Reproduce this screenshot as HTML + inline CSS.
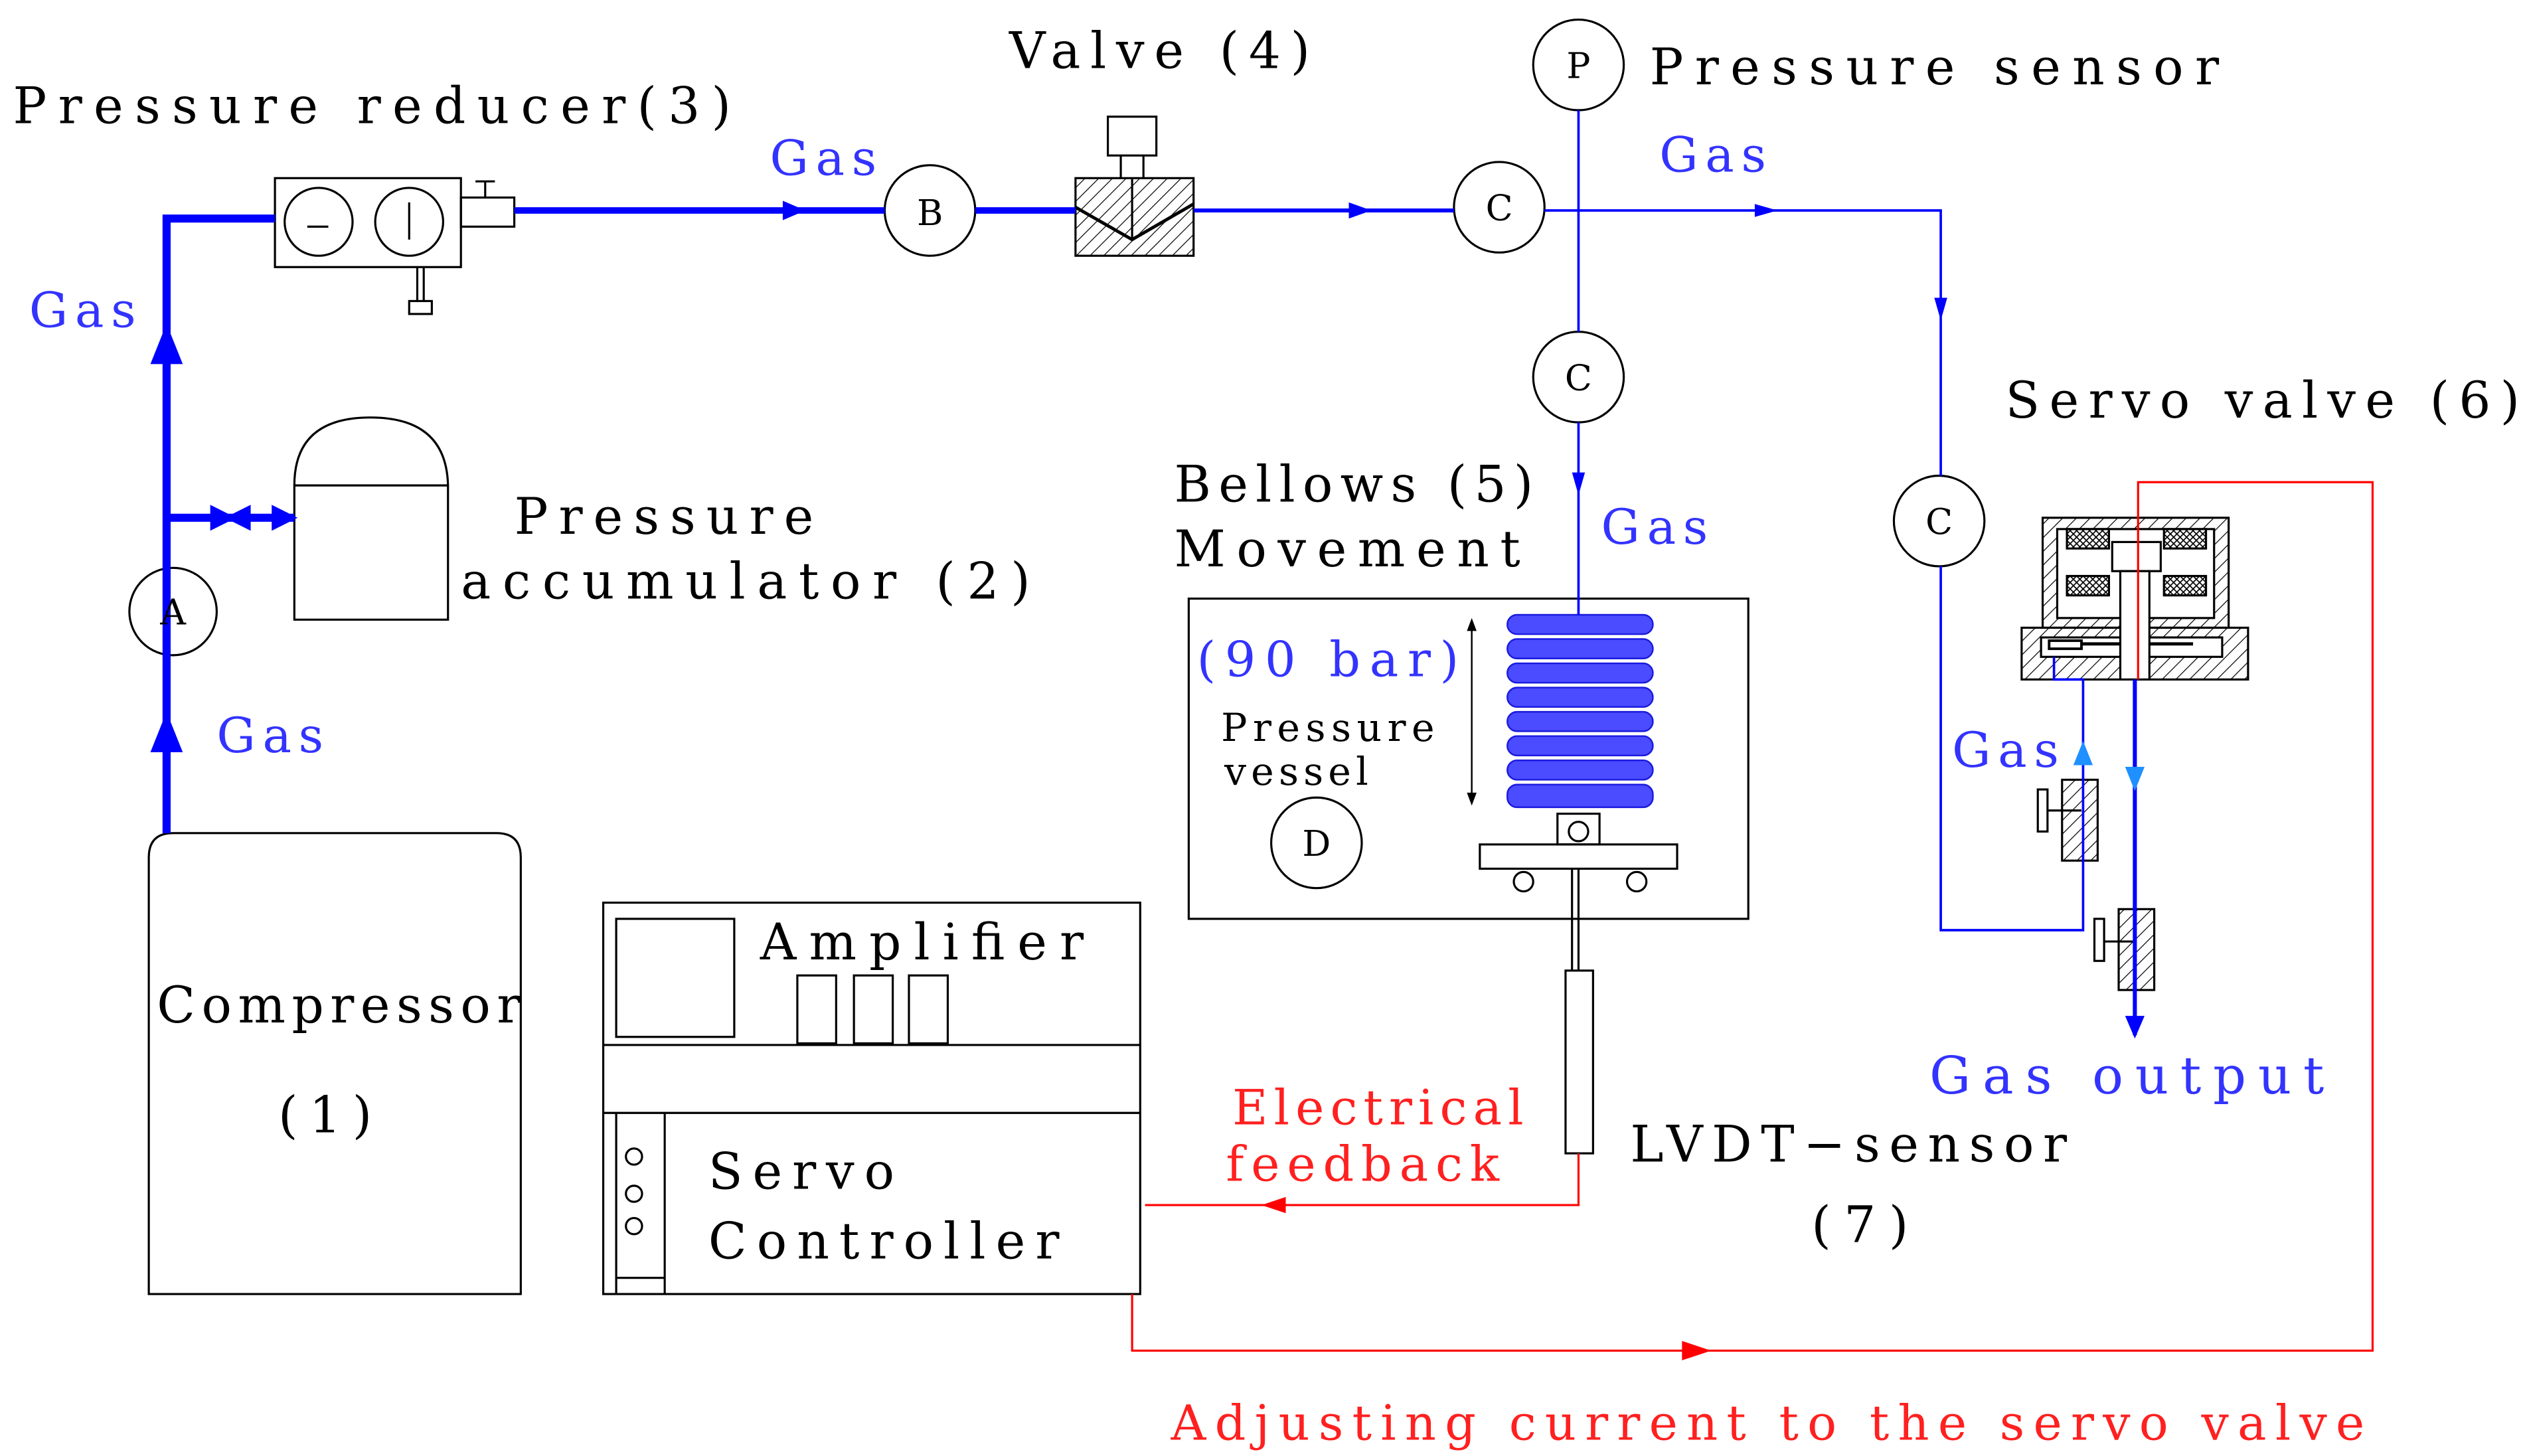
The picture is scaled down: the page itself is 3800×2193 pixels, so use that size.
<!DOCTYPE html>
<html><head><meta charset="utf-8"><style>
html,body{margin:0;padding:0;background:#fff;}
svg{display:block}
text{font-family:"DejaVu Serif","Liberation Serif",serif;}
</style></head><body>
<svg width="3800" height="2193" viewBox="0 0 1560 900" xmlns="http://www.w3.org/2000/svg">
<defs>
<pattern id="h" width="6" height="6" patternUnits="userSpaceOnUse" patternTransform="rotate(45)"><line x1="0" y1="0" x2="0" y2="6" stroke="#000" stroke-width="1"/></pattern>
<pattern id="x" width="4" height="4" patternUnits="userSpaceOnUse"><path d="M0 0L4 4M4 0L0 4" stroke="#000" stroke-width="0.7"/></pattern>
</defs>
<g fill="none" stroke="#000" stroke-width="1.3">
<path d="M92 800V530q0-15 15-15h200q15 0 15 15V800Z"/>
<path d="M182 383V300q0-42 47-42t48 42V383Z"/>
<line x1="182" y1="300" x2="277" y2="300"/>
<rect x="170" y="110" width="115" height="55"/>
<circle cx="197" cy="137" r="21"/><circle cx="253" cy="137" r="21"/>
<line x1="190" y1="140" x2="203" y2="140"/><line x1="253" y1="125" x2="253" y2="148"/>
<rect x="285" y="122" width="33" height="18"/>
<path d="M300 122V112M294 112h12"/>
<path d="M258 165V186M262 165V186"/><rect x="253" y="186" width="14" height="8"/>
<rect x="665" y="110" width="73" height="48" fill="url(#h)"/>
<rect x="685" y="72" width="30" height="24" fill="#fff"/>
<path d="M693 96V110M707 96V110"/>
<path d="M665 128L700 148L738 126" stroke-width="2"/>
<line x1="700" y1="110" x2="700" y2="148"/>
<circle cx="107" cy="378" r="27" fill="#fff"/>
<circle cx="575" cy="130" r="28"/>
<circle cx="927" cy="128" r="28"/>
<circle cx="976" cy="40" r="28"/>
<circle cx="976" cy="233" r="28"/>
<circle cx="1199" cy="322" r="28"/>
<circle cx="814" cy="521" r="28"/>
<rect x="735" y="370" width="346" height="198"/>
<rect x="915" y="522" width="122" height="15"/>
<circle cx="942" cy="545" r="6"/><circle cx="1012" cy="545" r="6"/>
<rect x="963" y="503" width="26" height="19"/><circle cx="976" cy="514" r="6"/>
<line x1="976" y1="537" x2="976" y2="600"/><line x1="972" y1="537" x2="972" y2="600"/>
<rect x="968" y="600" width="17" height="113"/>
<rect x="373" y="558" width="332" height="242"/>
<rect x="381" y="568" width="73" height="73"/>
<rect x="493" y="603" width="24" height="42"/><rect x="528" y="603" width="24" height="42"/><rect x="562" y="603" width="24" height="42"/>
<line x1="373" y1="646" x2="705" y2="646"/><line x1="373" y1="688" x2="705" y2="688"/>
<line x1="411" y1="688" x2="411" y2="800"/><line x1="381" y1="688" x2="381" y2="800"/><line x1="381" y1="790" x2="411" y2="790"/>
<circle cx="392" cy="715" r="5"/><circle cx="392" cy="738" r="5"/><circle cx="392" cy="758" r="5"/>
<rect x="1263" y="320" width="115" height="68" fill="url(#h)"/>
<rect x="1272" y="327" width="97" height="55" fill="#fff"/>
<rect x="1278" y="327" width="26" height="12" fill="url(#x)"/><rect x="1338" y="327" width="26" height="12" fill="url(#x)"/>
<rect x="1278" y="356" width="26" height="12" fill="url(#x)"/><rect x="1338" y="356" width="26" height="12" fill="url(#x)"/>
<rect x="1306" y="335" width="30" height="18"/>
<rect x="1250" y="388" width="140" height="32" fill="url(#h)"/>
<rect x="1262" y="394" width="112" height="12" fill="#fff"/>
<rect x="1267" y="396" width="20" height="5" fill="#fff" stroke-width="1.6"/><path d="M1287 398h28M1328 398h28" stroke-width="2"/>
<rect x="1311" y="353" width="18" height="67" fill="#fff"/>
<rect x="1275" y="482" width="22" height="50" fill="url(#h)"/>
<rect x="1260" y="488" width="6" height="26" fill="#fff"/><line x1="1266" y1="501" x2="1287" y2="501"/>
<rect x="1310" y="562" width="22" height="50" fill="url(#h)"/>
<rect x="1295" y="568" width="6" height="26" fill="#fff"/><line x1="1301" y1="582" x2="1320" y2="582"/>
</g>
<g fill="#4b4bff" stroke="#1a1adf" stroke-width="1">
<rect x="932" y="380" width="90" height="12" rx="6"/><rect x="932" y="395" width="90" height="12" rx="6"/>
<rect x="932" y="410" width="90" height="12" rx="6"/><rect x="932" y="425" width="90" height="12" rx="6"/>
<rect x="932" y="440" width="90" height="12" rx="6"/><rect x="932" y="455" width="90" height="12" rx="6"/>
<rect x="932" y="470" width="90" height="12" rx="6"/><rect x="932" y="485" width="90" height="14" rx="6"/>
</g>
<g stroke="#000" stroke-width="1"><line x1="910" y1="385" x2="910" y2="495"/></g>
<path d="M907 390l3-8 3 8ZM907 490l3 8 3-8Z" fill="#000"/>
<g fill="none" stroke="#0000ff">
<path d="M103 515V135H170" stroke-width="5"/>
<path d="M103 320H182" stroke-width="5"/>
<path d="M318 130H547M603 130H665" stroke-width="4"/>
<path d="M738 130H899" stroke-width="2.5"/>
<path d="M955 130H1200V294M1200 350V575H1288V420H1270V406" stroke-width="1.5"/>
<path d="M976 68V205M976 261V380" stroke-width="1.5"/>
<path d="M1320 420V640" stroke-width="2.5"/>
</g>
<g fill="#0000ff">
<path d="M93 465L103 440L113 465Z"/><path d="M93 225L103 200L113 225Z"/>
<path d="M130 312L146 320L130 328Z"/><path d="M155 312L139 320L155 328Z"/><path d="M168 312L184 320L168 328Z"/>
<path d="M484 124L498 130L484 136Z"/><path d="M834 125L848 130L834 135Z"/><path d="M1085 126L1099 130L1085 134Z"/>
<path d="M1196 184L1200 198L1204 184Z"/><path d="M972 292L976 306L980 292Z"/>
<path d="M1314 628L1320 642L1326 628Z"/>
</g>
<path d="M1282 473L1288 458L1294 473Z" fill="#1e90ff"/><path d="M1314 474L1320 489L1326 474Z" fill="#1e90ff"/>
<g fill="none" stroke="#ff0000" stroke-width="1.3">
<path d="M976 713V745H708"/>
<path d="M700 800V835H1467V298H1322V420"/>
</g>
<path d="M795 740L780 745L795 750Z" fill="#f00"/><path d="M1040 829L1058 835L1040 841Z" fill="#f00"/>
<g font-size="31" fill="#000" lengthAdjust="spacing">
<text x="8" y="76" textLength="444">Pressure  reducer(3)</text>
<text x="624" y="42" textLength="186">Valve (4)</text>
<text x="1020" y="52" textLength="352">Pressure  sensor</text>
<text x="1240" y="258" textLength="318">Servo  valve (6)</text>
<text x="318" y="330" textLength="185">Pressure</text>
<text x="285" y="370" textLength="352">accumulator (2)</text>
<text x="726" y="310" textLength="222">Bellows (5)</text>
<text x="726" y="350" textLength="214">Movement</text>
<text x="97" y="632" textLength="225">Compressor</text>
<text x="172" y="700" textLength="58">(1)</text>
<text x="470" y="593" textLength="200">Amplifier</text>
<text x="438" y="735" textLength="115">Servo</text>
<text x="438" y="778" textLength="217">Controller</text>
<text x="1008" y="718" textLength="270">LVDT−sensor</text>
<text x="1120" y="768" textLength="60">(7)</text>
<text x="755" y="458" font-size="24" textLength="132">Pressure</text>
<text x="757" y="485" font-size="24" textLength="89">vessel</text>
</g>
<g font-size="22" fill="#000" text-anchor="middle">
<text x="107" y="386">A</text><text x="575" y="139">B</text><text x="927" y="136">C</text>
<text x="976" y="48">P</text><text x="976" y="241">C</text><text x="1199" y="330">C</text><text x="814" y="529">D</text>
</g>
<g font-size="30" fill="#3333ff" lengthAdjust="spacing">
<text x="18" y="202" textLength="66">Gas</text><text x="134" y="465" textLength="66">Gas</text><text x="476" y="108" textLength="66">Gas</text>
<text x="1026" y="106" textLength="66">Gas</text><text x="990" y="336" textLength="66">Gas</text><text x="1207" y="474" textLength="66">Gas</text>
<text x="740" y="418" textLength="162">(90  bar)</text>
<text x="1193" y="676" font-size="32" textLength="244">Gas  output</text>
</g>
<g font-size="30" fill="#ff2020" lengthAdjust="spacing">
<text x="762" y="695" textLength="180">Electrical</text>
<text x="758" y="730" textLength="169">feedback</text>
<text x="724" y="890" textLength="738">Adjusting  current  to  the  servo  valve</text>
</g>
</svg>
</body></html>
